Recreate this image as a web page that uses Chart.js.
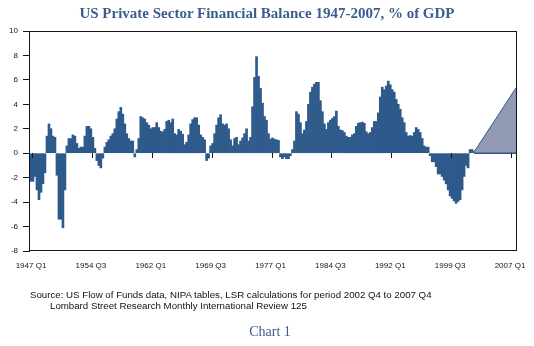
<!DOCTYPE html>
<html>
<head>
<meta charset="utf-8">
<script src="https://cdn.jsdelivr.net/npm/chart.js@4/dist/chart.umd.min.js"></script>
<style>
  html, body { margin: 0; padding: 0; background: #fff; }
  #wrap { position: relative; width: 534px; height: 346px; overflow: hidden; }
  #chart { position: absolute; left: 0; top: 0; }
  .txt { position: absolute; white-space: nowrap; line-height: 1; }
  #title { left: 0; top: 5px; width: 534px; text-align: center;
           font: bold 15px "Liberation Serif", serif; color: #3c5d8f; }
  #src1 { left: 30px; top: 288.5px; font: 9.7px "Liberation Sans", Arial, sans-serif; color: #111; }
  #src2 { left: 50px; top: 300px; font: 9.7px "Liberation Sans", Arial, sans-serif; color: #111; }
  #caption { left: 0; top: 324px; width: 540px; text-align: center;
             font: 14px "Liberation Serif", serif; color: #3c5d8f; }
</style>
</head>
<body>
<div id="wrap">
  <canvas id="chart" width="534" height="346"></canvas>
  <div class="txt" id="title">US Private Sector Financial Balance 1947-2007, % of GDP</div>
  <div class="txt" id="src1">Source: US Flow of Funds data, NIPA tables, LSR calculations for period 2002 Q4 to 2007 Q4</div>
  <div class="txt" id="src2">Lombard Street Research Monthly International Review 125</div>
  <div class="txt" id="caption">Chart 1</div>
</div>
<script>
// Quarterly categories, 1947 Q1 .. 2007 Q4
const firstYear = 1947;
const lastYear = 2007;
const categories = [];
for (let yr = firstYear; yr <= lastYear; yr++) {
  for (let q = 1; q <= 4; q++) categories.push(yr + ' Q' + q);
}

// Labelled quarters on the time axis
const tickLabels = ['1947 Q1', '1954 Q3', '1962 Q1', '1969 Q3', '1977 Q1',
                    '1984 Q3', '1992 Q1', '1999 Q3', '2007 Q1'];

// Value axis range and step (% of GDP)
const yMin = -8;
const yMax = 10;
const yStep = 2;

// Private sector financial balance, % of GDP, 1947 Q1 .. 2002 Q3
const balance = [
  -2.3, -2.3, -1.9, -3.0, -3.8, -3.2, -2.5, -1.6,   // 1947-48
   1.4,  2.4,  2.0,  1.4,  1.3, -1.8, -5.4, -5.4,   // 1949-50
  -6.1, -3.0,  0.6,  1.2,  1.2,  1.5,  1.4,  0.8,   // 1951-52
   0.4,  0.5,  0.5,  1.4,  2.2,  2.2,  2.0,  1.3,   // 1953-54
   0.4, -0.6, -1.0, -1.2, -0.4,  0.5,  0.9,  1.1,   // 1955-56
   1.4,  1.6,  2.0,  2.8,  3.4,  3.75, 3.2,  2.4,   // 1957-58
   1.6,  1.2,  1.0,  1.0, -0.3,  0.3,  1.2,  3.0,   // 1959-60
   2.9,  2.8,  2.5,  2.3,  2.0,  2.1,  2.1,  2.5,   // 1961-62
   2.1,  1.8,  1.75, 1.95, 2.6,  2.7,  2.5,  2.8,   // 1963-64
   1.6,  1.5,  1.95, 1.8,  1.55, 0.7,  0.9,  1.5,   // 1965-66
   2.4,  2.75, 2.9,  2.9,  2.3,  1.5,  1.3,  1.1,   // 1967-68
  -0.6, -0.4,  0.6,  0.8,  1.6,  2.3,  2.9,  3.15,  // 1969-70
   2.4,  2.3,  2.4,  2.0,  1.1,  0.6,  1.2,  1.3,   // 1971-72
   0.7,  1.0,  1.25, 1.6,  2.0,  1.0,  1.3,  3.8,   // 1973-74
   6.2,  7.9,  6.3,  5.3,  4.1,  3.0,  2.7,  1.6,   // 1975-76
   1.15, 1.25, 1.15, 1.1,  1.05, -0.3, -0.45, -0.3, // 1977-78
  -0.45, -0.45, -0.2, 0.3,  1.0,  3.4,  3.2,  2.5,  // 1979-80
   1.6,  1.9,  2.6,  4.0,  5.0,  5.4,  5.65, 5.8,   // 1981-82
   5.8,  4.3,  3.4,  2.4,  1.95, 2.5,  2.7,  2.85,  // 1983-84
   3.0,  3.45, 2.2,  1.9,  1.85, 1.7,  1.4,  1.3,   // 1985-86
   1.3,  1.5,  1.6,  2.2,  2.45, 2.5,  2.55, 2.45,  // 1987-88
   1.75, 1.6,  1.7,  2.1,  2.6,  2.6,  3.3,  4.6,   // 1989-90
   5.4,  5.2,  5.5,  5.9,  5.6,  5.2,  5.0,  4.4,   // 1991-92
   4.0,  3.6,  2.9,  2.5,  1.7,  1.4,  1.45, 1.4,   // 1993-94
   1.7,  2.1,  1.95, 1.7,  1.2,  0.6,  0.5,  0.5,   // 1995-96
  -0.2, -0.7, -0.7, -1.1, -1.7, -1.7, -1.9, -2.2,   // 1997-98
  -2.5, -3.0, -3.5, -3.7, -3.9, -4.1, -3.95, -3.8,  // 1999-2000
  -3.0, -1.9, -1.0, -1.2,  0.3,  0.3,  0.15         // 2001-2002 Q3
];

// LSR projection, % of GDP, 2002 Q4 .. 2007 Q4
const projection = [
  0.35, 0.6, 0.85, 1.1, 1.35, 1.6, 1.85, 2.1, 2.35, 2.6, 2.85,
  3.1, 3.35, 3.6, 3.85, 4.1, 4.35, 4.6, 4.85, 5.1, 5.35
];

const barColor = '#2e5a8b';
const projFill = '#9299b5';
const inkColor = '#151515';

const lastActual = balance.length - 1;
const barData = categories.map((c, i) => (i <= lastActual ? balance[i] : null));
// projection area joins on from the last actual quarter
const projData = categories.map((c, i) => {
  if (i < lastActual) return null;
  if (i === lastActual) return balance[lastActual];
  return projection[i - lastActual - 1];
});
const baseData = categories.map((c, i) => (i >= lastActual ? 0 : null));

const tickIndex = {};
tickLabels.forEach(l => { tickIndex[categories.indexOf(l)] = l; });

// plot frame and the small date ticks on the zero line
const framePlugin = {
  id: 'framePlugin',
  afterDatasetsDraw(chart) {
    const { ctx, chartArea: a, scales } = chart;
    ctx.save();
    ctx.strokeStyle = inkColor;
    ctx.lineWidth = 1;
    const y0 = Math.round(scales.y.getPixelForValue(0));
    ctx.beginPath();
    Object.keys(tickIndex).forEach(k => {
      const px = Math.round(scales.x.getPixelForValue(+k)) + 1.5;
      ctx.moveTo(px, y0);
      ctx.lineTo(px, y0 + 5);
    });
    ctx.stroke();
    ctx.strokeRect(a.left - 0.5, a.top + 0.5, a.right - a.left, a.bottom - a.top - 1);
    ctx.restore();
  }
};

new Chart(document.getElementById('chart'), {
  type: 'bar',
  data: {
    labels: categories,
    datasets: [
      {
        type: 'line',
        data: baseData,
        borderColor: barColor,
        borderWidth: 1.5,
        pointRadius: 0,
        fill: false,
        order: 1
      },
      {
        type: 'line',
        data: projData,
        borderColor: barColor,
        borderWidth: 1,
        backgroundColor: projFill,
        pointRadius: 0,
        tension: 0,
        fill: 'origin',
        order: 2
      },
      {
        data: barData,
        backgroundColor: barColor,
        borderWidth: 0,
        barPercentage: 1,
        categoryPercentage: 1,
        order: 3
      }
    ]
  },
  options: {
    responsive: false,
    animation: false,
    devicePixelRatio: 1,
    layout: { padding: { top: 31, right: 17, left: 0, bottom: 0 } },
    plugins: { legend: { display: false }, tooltip: { enabled: false }, title: { display: false } },
    scales: {
      x: {
        grid: { display: false },
        border: { display: false },
        afterFit(scale) { scale.height = 95; },
        ticks: {
          autoSkip: false,
          maxRotation: 0,
          minRotation: 0,
          padding: 2,
          color: inkColor,
          font: { family: 'Liberation Sans', size: 8 },
          callback: (v, i) => tickIndex[i] || ''
        }
      },
      y: {
        min: yMin,
        max: yMax,
        afterFit(scale) { scale.width = 30; },
        border: { display: false },
        grid: { drawOnChartArea: false, drawTicks: true, tickLength: 7, color: inkColor, lineWidth: 1 },
        ticks: {
          stepSize: yStep,
          padding: 5,
          color: inkColor,
          font: { family: 'Liberation Sans', size: 8 }
        }
      }
    }
  },
  plugins: [framePlugin]
});
</script>
</body>
</html>
